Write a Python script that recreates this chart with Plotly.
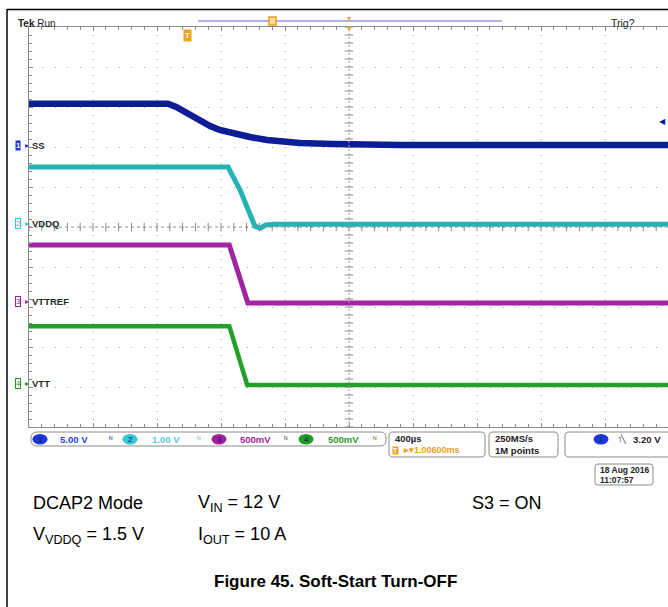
import plotly.graph_objects as go

# ---- waveform data, in screen divisions (x: 0..10 time div, y: 0..10 vertical div) ----
ss_t = [0, 2.17, 2.30, 2.44, 2.56, 2.67, 2.83, 2.98, 3.19, 3.45, 3.72, 3.97, 4.23, 4.75, 5.8, 10]
ss_v = [8.08, 8.08, 8.0, 7.875, 7.75, 7.65, 7.525, 7.425, 7.34, 7.25, 7.175, 7.125, 7.1, 7.075, 7.05, 7.05]

vddq_t = [0, 3.11, 3.3, 3.45, 3.53, 3.61, 3.70, 3.84, 10]
vddq_v = [6.5, 6.5, 5.92, 5.3, 5.02, 4.97, 5.05, 5.07, 5.07]

vttref_t = [0, 3.13, 3.42, 10]
vttref_v = [4.55, 4.55, 3.1, 3.1]

vtt_t = [0, 3.13, 3.41, 10]
vtt_v = [2.52, 2.52, 1.05, 1.05]

channels = ["SS", "VDDQ", "VTTREF", "VTT"]
ch_ground = [7.03, 5.08, 3.15, 1.1]
ch_scale = ["5.00 V", "1.00 V", "500mV", "500mV"]
timebase = "400µs"
trig_delay = "1.00600ms"
sample_rate = ["250MS/s", "1M points"]
trig_level = "3.20 V"
stamp = ["18 Aug 2016", "11:07:57"]

COL = ["#0d1d96", "#25b2b4", "#a2249e", "#22a02a"]
TXT = ["#2a44d4", "#56cde0", "#a2249e", "#2a9a2a"]
LABEL_BG = ["#1c36d8", "#33c6d6", "#a2209e", "#1f9a25"]
ORANGE = "#f0a020"

W, H = 668, 607
GX0, GX1, GY0, GY1 = 29, 669, 27, 427   # scope graticule edges in px


def X(p):
    return p / W


def Y(p):
    return 1 - p / H


def rbox(x0, y0, x1, y1, r=5):
    pts = [
        ("M", x0 + r, y0), ("L", x1 - r, y0), ("Q", x1, y0, x1, y0 + r), ("L", x1, y1 - r),
        ("Q", x1, y1, x1 - r, y1), ("L", x0 + r, y1), ("Q", x0, y1, x0, y1 - r),
        ("L", x0, y0 + r), ("Q", x0, y0, x0 + r, y0),
    ]
    out = []
    for p in pts:
        coords = p[1:]
        s = " ".join(f"{X(coords[i]):.5f},{Y(coords[i + 1]):.5f}" for i in range(0, len(coords), 2))
        out.append(f"{p[0]} {s}")
    return " ".join(out) + " Z"


fig = go.Figure()

# center crosshair tick marks
minor = [i * 0.2 for i in range(51)]
fig.add_trace(go.Scatter(x=[5] * len(minor), y=minor, mode="markers", hoverinfo="skip",
                         marker=dict(symbol="line-ew", size=6, line=dict(width=1, color="#8a8a8a"))))
fig.add_trace(go.Scatter(x=minor, y=[5] * len(minor), mode="markers", hoverinfo="skip",
                         marker=dict(symbol="line-ns", size=6, line=dict(width=1, color="#8a8a8a"))))

for t, v, c, w in [(ss_t, ss_v, COL[0], 6.5), (vddq_t, vddq_v, COL[1], 5),
                   (vttref_t, vttref_v, COL[2], 5), (vtt_t, vtt_v, COL[3], 4.5)]:
    fig.add_trace(go.Scatter(x=t, y=v, mode="lines", line=dict(color=c, width=w), hoverinfo="skip"))

shapes = [
    # crosshair
    dict(type="line", xref="x", yref="y", x0=5, x1=5, y0=0, y1=10, line=dict(color="#a0a0a0", width=1, dash="2px,2px")),
    dict(type="line", xref="x", yref="y", x0=0, x1=10, y0=5, y1=5, line=dict(color="#909090", width=1, dash="3px,3px")),
    # page frame
    dict(type="line", xref="paper", yref="paper", x0=X(7), x1=X(7), y0=Y(9), y1=0, line=dict(color="black", width=1.5)),
    dict(type="line", xref="paper", yref="paper", x0=X(7), x1=1, y0=Y(9.5), y1=Y(9.5), line=dict(color="black", width=1.5)),
    # record view bar
    dict(type="line", xref="paper", yref="paper", x0=X(198), x1=X(502), y0=Y(21), y1=Y(21), line=dict(color="#5866e0", width=1)),
    dict(type="rect", xref="paper", yref="paper", x0=X(269), x1=X(276), y0=Y(17), y1=Y(25), line=dict(color=ORANGE, width=1.5), fillcolor="#ffe0a0"),
    # status boxes
    dict(type="path", xref="paper", yref="paper", path=rbox(31, 432, 386, 446, 6), line=dict(color="#8a8a8a", width=1)),
    dict(type="path", xref="paper", yref="paper", path=rbox(389, 432, 485, 457, 4), line=dict(color="#8a8a8a", width=1)),
    dict(type="path", xref="paper", yref="paper", path=rbox(489, 432, 558, 457, 4), line=dict(color="#8a8a8a", width=1)),
    dict(type="path", xref="paper", yref="paper", path=rbox(565, 432, 680, 457, 4), line=dict(color="#8a8a8a", width=1)),
    dict(type="path", xref="paper", yref="paper", path=rbox(595, 464, 653, 485, 3), line=dict(color="#8a8a8a", width=1)),
]

ann = []
sf = "Liberation Sans, Arial, sans-serif"


def txt(x, y, s, size=9, color="#222", anchor="left", **kw):
    ann.append(dict(xref="paper", yref="paper", x=X(x), y=Y(y), text=s, showarrow=False,
                    xanchor=anchor, yanchor="middle", font=dict(family=kw.pop("family", sf), size=size, color=color), **kw))


# status channel ellipses
ell_x = [40, 130, 219, 306, 601]
for i, cx in enumerate(ell_x):
    k = i if i < 4 else 0
    shapes.append(dict(type="circle", xref="paper", yref="paper", x0=X(cx - 7.5), x1=X(cx + 7.5),
                       y0=Y(444.5), y1=Y(434), fillcolor=LABEL_BG[k], line=dict(width=0)))
    txt(cx, 439.5, str(k + 1), 8, "#101a60", "center")

for i, xx in enumerate([58, 150, 238, 326]):
    txt(xx, 439.5, "<b>" + ch_scale[i] + "</b>", 9.5, TXT[i])
for i, xx in enumerate([111, 199, 286, 375]):
    txt(xx, 439, "ᴺ", 8, TXT[i], "center")

txt(393, 438, "<b>" + timebase + "</b>", 9.5, "#222")
txt(392, 450, "<b>T</b>", 7, "white", bgcolor=ORANGE, borderpad=0)
txt(401, 450, "<b>▸▾" + trig_delay + "</b>", 9, ORANGE)
txt(493, 438, "<b>" + sample_rate[0] + "</b>", 9.5, "#222")
txt(493, 450, "<b>" + sample_rate[1] + "</b>", 9.5, "#222")
txt(616, 439, "˥\u2572", 8, "#222")
txt(631, 439, "<b>" + trig_level + "</b>", 9.5, "#222")
txt(598, 469.5, "<b>" + stamp[0] + "</b>", 8.5, "#222")
txt(598, 479.5, "<b>" + stamp[1] + "</b>", 8.5, "#222")

# top header
txt(16, 23, "<b>Tek</b> Run", 10, "#222")
txt(609, 23, "Trig?", 10.5, "#222")
txt(349, 18, "▾", 8, ORANGE, "center")
txt(349, 28, "▾", 9, ORANGE, "center")
txt(187, 36, "<b>T</b>", 8, "white", "center", bgcolor=ORANGE, borderpad=1)
txt(668, 121, "◀", 8, COL[0], "right")

# channel ground markers and labels
for i, g in enumerate(ch_ground):
    ypx = GY1 - g * 40
    if i == 0:
        txt(18, ypx, "<b>1</b>", 7.5, "white", "center", bgcolor=LABEL_BG[0], borderpad=0)
    else:
        txt(18, ypx, str(i + 1), 7.5, LABEL_BG[i], "center", bgcolor="white", bordercolor=LABEL_BG[i], borderwidth=1, borderpad=0)
    txt(23, ypx, "▸", 8, LABEL_BG[i], "left")
    txt(30, ypx, "<b>" + channels[i] + "</b>", 9.5, "#2a2a2a")

# caption text
cf = "Liberation Sans Narrow, Arial Narrow, Liberation Sans, Arial, sans-serif"
txt(31, 503, "DCAP2 Mode", 18, "black", family=cf)
txt(196, 503, "V<sub>IN</sub> = 12 V", 18, "black", family=cf)
txt(470, 503, "S3 = ON", 18, "black", family=cf)
txt(31, 535, "V<sub>VDDQ</sub> = 1.5 V", 18, "black", family=cf)
txt(196, 535, "I<sub>OUT</sub> = 10 A", 18, "black", family=cf)
txt(335, 581, "<b>Figure 45. Soft-Start Turn-OFF</b>", 17, "black", "center", family=cf)

fig.update_layout(
    width=W, height=H,
    margin=dict(l=0, r=0, t=0, b=0),
    paper_bgcolor="white", plot_bgcolor="white",
    showlegend=False,
    hovermode=False,
    shapes=shapes,
    annotations=ann,
    xaxis=dict(domain=[X(GX0), 1], range=[0, 10 * (W - GX0) / (GX1 - GX0)], dtick=1, tick0=0,
               showgrid=True, gridcolor="#a8a8a8", gridwidth=1, griddash="1px,7px",
               showline=True, linecolor="#8a8a8a", linewidth=1, mirror="ticks",
               ticks="inside", ticklen=4, tickcolor="#8a8a8a",
               minor=dict(dtick=0.2, ticks="inside", ticklen=3, tickcolor="#8a8a8a", showgrid=False),
               showticklabels=False, zeroline=False, fixedrange=True),
    yaxis=dict(domain=[Y(GY1), Y(GY0)], range=[0, 10], dtick=1, tick0=0,
               showgrid=True, gridcolor="#a8a8a8", gridwidth=1, griddash="1px,11.8px",
               showline=True, linecolor="#8a8a8a", linewidth=1, mirror=False,
               ticks="inside", ticklen=4, tickcolor="#8a8a8a",
               minor=dict(dtick=0.2, ticks="inside", ticklen=3, tickcolor="#8a8a8a", showgrid=False),
               showticklabels=False, zeroline=False, fixedrange=True),
)

# drop the default 8px page margin so the figure sits flush in the window
fig.write_html("out.html", config={"displayModeBar": False},
               post_script="document.body.style.margin='0';")
